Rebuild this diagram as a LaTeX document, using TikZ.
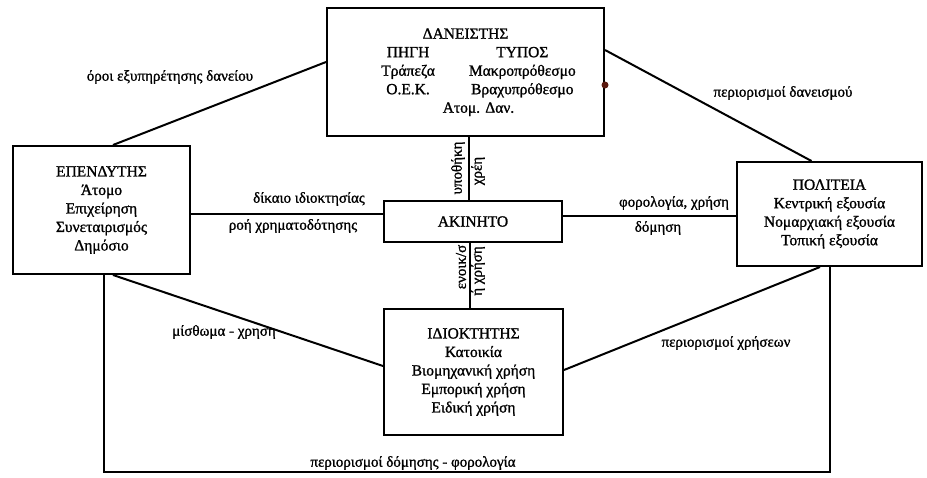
\documentclass[tikz,border=0pt]{standalone}
\usepackage{fontspec}
\setmainfont{Liberation Serif}
\newfontfamily\scanfont[FakeBold=1.2]{Liberation Serif}
\usepackage{tikz}
\usepackage{array}
\definecolor{dotbrown}{RGB}{90,25,15}

\begin{document}
\begin{tikzpicture}[x=1pt,y=-1pt,
    box/.style={draw, line width=2pt, align=center, inner sep=0pt,
      font=\scanfont\fontsize{15.5}{18.5}\selectfont},
    lbl/.style={font=\scanfont\fontsize{15}{17}\selectfont, inner sep=0pt},
    link/.style={line width=2pt}]
  \useasboundingbox (0,0) rectangle (927,477);

  % Boxes
  \node[box, minimum width=277pt, minimum height=128pt] (lender) at (465.5,72)
    {\begin{tabular}{@{\hspace{26pt}}c@{\hspace{34pt}}c@{}}
      \multicolumn{2}{@{}c@{}}{ΔΑΝΕΙΣΤΗΣ}\\
      ΠΗΓΗ & ΤΥΠΟΣ\\
      Τράπεζα & Μακροπρόθεσμο\\
      Ο.Ε.Κ. & Βραχυπρόθεσμο\\
      \multicolumn{2}{@{\hspace{26pt}}c@{}}{Ατομ. Δαν.}
    \end{tabular}};
  \node[box, minimum width=177pt, minimum height=128pt] (investor) at (101.5,210)
    {ΕΠΕΝΔΥΤΗΣ\\ Άτομο\\ Επιχείρηση\\ Συνεταιρισμός\\ Δημόσιο};
  \node[box, minimum width=185pt, minimum height=104pt] (state) at (829.5,214)
    {ΠΟΛΙΤΕΙΑ\\ Κεντρική εξουσία\\ Νομαρχιακή εξουσία\\ Τοπική εξουσία};
  \node[box, minimum width=178pt, minimum height=41pt] (property) at (473,221.5)
    {ΑΚΙΝΗΤΟ};
  \node[box, minimum width=179pt, minimum height=126pt] (owner) at (473.5,372)
    {ΙΔΙΟΚΤΗΤΗΣ\\ Κατοικία\\ Βιομηχανική χρήση\\ Εμπορική χρήση\\ Ειδική χρήση};

  % Links
  \draw[link] ([xshift=11.5pt]investor.north) -- ([yshift=10pt]lender.west);
  \draw[link] ([yshift=22pt]lender.east) -- ([xshift=-18pt]state.north);
  \draw[link] ([yshift=-3.5pt]investor.east) -- ([yshift=-3.5pt]investor.east -| property.west);
  \draw[link] ([yshift=5.5pt]property.east) -- ([yshift=5.5pt]property.east -| state.west);
  \draw[link] ([xshift=3.5pt]lender.south) -- ([xshift=3.5pt]lender.south |- property.north);
  \draw[link] ([xshift=-3.5pt]property.south) -- ([xshift=-3.5pt]property.south |- owner.north);
  \draw[link] ([xshift=11.5pt]investor.south) -- ([yshift=6pt]owner.west);
  \draw[link] ([yshift=2pt]owner.east) -- ([xshift=-9.5pt]state.south);
  \coordinate (floor) at (0,472);
  \draw[link] ([xshift=2.5pt]investor.south) -- ([xshift=2.5pt]investor.south |- floor)
    -| ([xshift=0.5pt]state.south);

  % Dot
  \fill[dotbrown] ([yshift=-13pt]lender.east) circle (3.5pt);

  % Labels
  \node[lbl] (terms) at (170,77) {όροι εξυπηρέτησης δανείου};
  \node[lbl] (limits) at (783,93) {περιορισμοί δανεισμού};
  \node[lbl] (right) at (309,199) {δίκαιο ιδιοκτησίας};
  \node[lbl] (flow) at (293,226) {ροή χρηματοδότησης};
  \node[lbl] (tax) at (674,203) {φορολογία, χρήση};
  \node[lbl] (build) at (658,228) {δόμηση};
  \node[lbl, rotate=90] (mortgage) at (458,168) {υποθήκη};
  \node[lbl, rotate=90] (debt) at (478,171) {χρέη};
  \node[lbl, rotate=90] (rent) at (461,267) {ενοικ/σ};
  \node[lbl, rotate=90] (use) at (478,271) {ή χρήση};
  \node[lbl] (lease) at (224,332) {μίσθωμα - χρηση};
  \node[lbl] (uselimits) at (726,343) {περιορισμοί χρήσεων};
  \node[lbl] (buildlimits) at (413,463) {περιορισμοί δόμησης - φορολογία};
\end{tikzpicture}
\end{document}
